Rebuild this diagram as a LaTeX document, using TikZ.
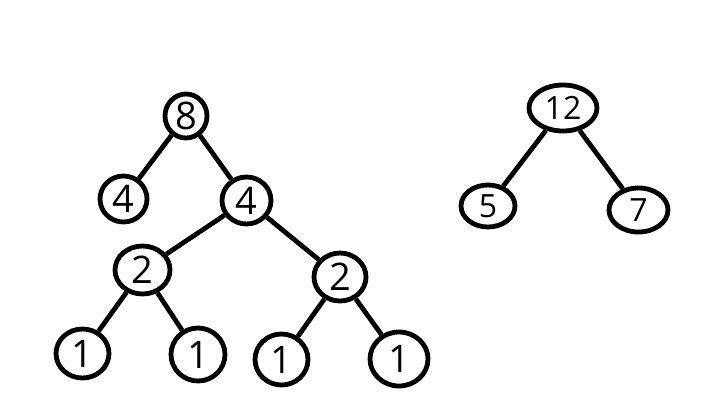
\documentclass[tikz,border=0pt]{standalone}
\usepackage{fontspec}
\setmainfont{Open Sans}
\usetikzlibrary{shapes.geometric}
\tikzset{
  tn/.style={draw, ellipse, line width=4.8pt, inner sep=0pt, font=\fontsize{38}{38}\selectfont},
  tns/.style={draw, ellipse, line width=4.8pt, inner sep=0pt, font=\fontsize{32}{32}\selectfont},
  edge/.style={line width=4.8pt}
}
\begin{document}
\begin{tikzpicture}[x=1pt,y=-1pt]
\useasboundingbox (0,0) rectangle (725,400);
\node[tn, minimum width=42pt, minimum height=44pt] (n8) at (186,116) {8};
\node[tn, minimum width=47pt, minimum height=46pt] (n4l) at (123.5,199) {4};
\node[tn, minimum width=49pt, minimum height=47pt] (n4m) at (246.5,200.5) {4};
\node[tn, minimum width=55pt, minimum height=48pt] (n2l) at (142.5,270) {2};
\node[tn, minimum width=52pt, minimum height=48pt] (n2r) at (340,277) {2};
\node[tn, minimum width=53pt, minimum height=49pt] (l1) at (82.5,353.5) {1};
\node[tn, minimum width=54pt, minimum height=53pt] (l2) at (198,354.5) {1};
\node[tn, minimum width=53pt, minimum height=51pt] (l3) at (281.5,359.5) {1};
\node[tn, minimum width=58pt, minimum height=54pt] (l4) at (399,359) {1};
\node[tns, minimum width=68pt, minimum height=46pt] (n12) at (563,108) {12};
\node[tns, minimum width=54pt, minimum height=42pt] (n5) at (488,206) {5};
\node[tns, minimum width=59pt, minimum height=44pt] (n7) at (638.5,210) {7};
\draw[edge] (n8) -- (n4l);
\draw[edge] (n8) -- (n4m);
\draw[edge] (n4m) -- (n2l);
\draw[edge] (n4m) -- (n2r);
\draw[edge] (n2l) -- (l1);
\draw[edge] (n2l) -- (l2);
\draw[edge] (n2r) -- (l3);
\draw[edge] (n2r) -- (l4);
\draw[edge] (n12) -- (n5);
\draw[edge] (n12) -- (n7);
\end{tikzpicture}
\end{document}
